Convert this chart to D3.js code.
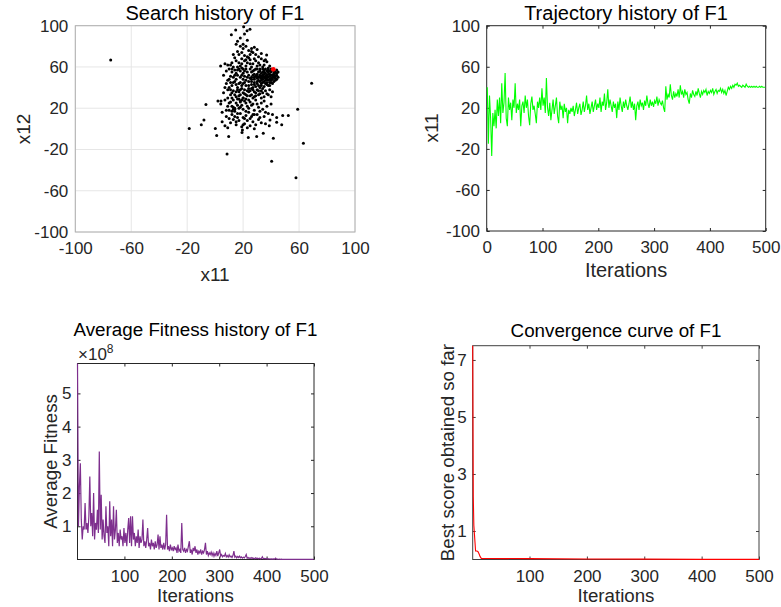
<!DOCTYPE html>
<html>
<head>
<meta charset="utf-8">
<script src="https://cdnjs.cloudflare.com/ajax/libs/d3/7.8.5/d3.min.js"></script>
<style>
body { margin: 0; background: #fff; }
text { font-family: "Liberation Sans", Arial, sans-serif; }
</style>
</head>
<body>
<div id="chart"></div>
<script>
// search history points [x11, x12]
var searchPoints = [
  [-74.7,66.8],[-18.5,0.3],[-9.9,3.9],[-8,8.7],[-6.6,23.5],[0.1,0.3],[1.1,-6.5],[4.2,27.1],[3.9,61],
  [8.5,-24.5],[9.7,-7.4],[40.4,-31.3],[57.8,-47.4],[63.1,-13.9],[59,19],[69,44.2],[48.3,12.9],[52.3,12.9],
  [41.6,-9],[34.4,-4.2],[29.7,-7.4],[23.7,-8.4],[19.2,-3.5],[44,6.5],[47.6,3.9],[38.7,2.9],[39.2,8.7],[36.8,71.6],
  [11.6,91.3],[14.7,95.8],[20.4,99],[22.8,95.2],[24.9,96.5],[21,92],[18,88],[23,86],[16,85],
  [15,82],[18,80],[20,78],[22,80],[24,76],[26,78],[28,79],[30,77],[33,73],[19,74],[17,72],[21,71],[25,72],
  [27,74],[29,72],[31,70],[23,70],[13,72],[20,82],[26,75],
  [9,62],[11,62],[13,60],[15,66],[17,64],[19,68],[21,66],[23,64],[25,67],[27,63],[29,66],[31,64],[33,68],
  [35,62],[37,65],[39,61],[14,69],[18,61],[22,61],[26,60],[30,61],[34,60],[36,67],[24,69],[16,60],[7,63],
  [10,58],[12,55],[14,57],[16,52],[18,56],[20,54],[22,58],[24,52],[26,55],[28,57],[30,53],[32,56],[34,58],
  [36,54],[38,57],[40,55],[42,56],[43,54],[44,57],[41,52],[39,51],[37,52],[35,50],[33,51],[31,55],[29,51],
  [27,52],[25,58],[23,50],[21,51],[19,52],[17,58],[15,54],[11,51],[13,50],[36,58],[38,53],[40,58],[42,52],
  [44,54],[34,55],[32,52],[30,58],[28,50],[37,56],[39,56],[41,57],[43,55],[35,57],[33,54],
  [8,44],[10,48],[12,42],[14,46],[16,40],[18,45],[20,48],[22,42],[24,46],[26,48],[28,45],[30,49],[32,46],
  [34,48],[36,44],[38,47],[40,49],[42,46],[44,48],[31,42],[33,44],[35,41],[37,45],[39,42],[41,44],[29,41],
  [27,40],[21,45],[19,42],[15,43],[11,45],[30,46],[34,45],[36,49],[38,42],[40,45],[32,40],[28,48],[26,43],[43,49],
  [31,50],[33,49],[35,53],[37,50],[39,48],[41,50],[43,51],[36,47],[38,50],[40,52],[42,50],[34,52],[32,50],
  [30,51],[28,53],[26,50],[35,46],[33,47],[37,48],[39,53],
  [12,17],[14,20],[16,23],[18,27],[20,30],[22,33],[24,36],[26,39],
  [6,35],[9,38],[11,33],[13,37],[15,31],[17,36],[19,39],[21,34],[23,37],[25,32],[27,38],[29,35],[31,33],
  [33,37],[35,31],[37,34],[39,38],[41,36],[24,39],[20,30],[18,33],[16,38],[12,30],[28,31],[34,39],
  [2,27],[4,24],[7,28],[9,22],[11,26],[13,21],[15,25],[17,29],[19,23],[21,27],[23,22],[25,26],[27,24],
  [29,28],[31,21],[33,25],[35,27],[37,22],[40,24],[14,19],[18,26],[22,25],
  [5,16],[8,12],[10,18],[12,14],[14,17],[16,11],[18,15],[20,19],[22,13],[24,16],[26,12],[28,18],[30,14],
  [32,17],[35,12],[38,15],[41,14],[44,11],[13,19],[17,20],[21,10],
  [5,7],[7,3],[9,1],[11,6],[13,9],[15,4],[17,8],[19,2],[21,5],[23,8],[25,3],[27,7],[29,4],[31,9],[36,5],[19.5,-1],
  [6,52],[8,56],[9,47],[10,40],[12,64],[13,45],[14,52],[15,48],[16,57],[17,44],[18,50],[19,59],[20,44],
  [21,56],[22,47],[23,55],[24,42],[25,49],[26,46],[27,56],[28,43],[29,58],[30,44],[31,47],[32,58],[33,42],
  [34,50],[35,55],[36,51],[37,43],[38,55],[39,45],[40,47],[41,48],[42,54],[43,47],[44,52],[45,55],[45,50],
  [7,40],[9,30],[10,25],[11,38],[12,35],[13,28],[14,33],[15,36],[16,29],[17,32],[18,38],[19,28],[20,35],
  [21,38],[22,29],[23,32],[24,28],[25,37],[26,33],[27,30],[28,36],[29,32],[30,38],[31,37],[32,34],[33,30],
  [34,35],[36,37],[38,33],[40,31],
  [8,18],[10,10],[12,22],[14,12],[16,15],[18,21],[20,11],[22,17],[24,20],[26,23],[28,14],[30,24],[32,11],
  [34,19],[36,16],[25,10],[27,14],[15,7],[20,4],[23,1],[28,0],[33,6],
  [16,75],[19,63],[22,67],[25,63],[28,68],[32,62],[35,66],[38,59],[20,58],[12,58]
];
var bestPoint = [41.6, 57.7];

// trajectory of x11, iterations 1,3,5,...,499
var trajValues = [
  40,-15,32,10,-27,15,2,18,0,28,12,30,5,44,15,25,54,10,2,30,18,25,8,28,20,
  44,15,24,18,28,2,22,26,15,32,20,28,12,3,24,31,18,22,14,5,26,20,30,18,39,
  22,30,15,49,20,12,25,8,18,28,14,22,30,12,5,26,18,22,10,24,16,20,5,18,14,
  20,16,22,12,18,25,14,20,24,13,18,26,16,22,32,18,24,14,20,26,16,22,28,18,24,
  20,30,16,26,22,34,18,25,38,20,28,22,16,26,20,24,10,26,18,30,22,16,26,20,28,
  22,18,24,31,20,26,18,24,8,22,26,18,28,22,25,18,27,22,32,24,20,28,22,26,21,
  27,24,31,22,28,25,23,27,20,16,41,28,33,30,43,32,28,36,30,34,31,38,30,42,33,
  36,30,38,33,35,28,24,34,30,37,33,31,36,32,39,34,30,36,33,37,35,38,32,36,34,
  37,35,39,33,36,38,34,37,36,39,35,38,34,37,32,36,40,38,41,39,42,40,43,42,44,
  41,42,41,40,42,41,40,43,41,40,41,40,41,40,41,40,41,40,40,41,40,41,40,40,40
];

// average fitness (x 10^8), iterations 1,3,5,...,499
var avgFitness = [
  5.9,1.0,2.2,2.9,1.2,0.6,1.0,0.9,1.7,0.9,1.1,0.8,1.3,2.5,1.0,1.4,0.7,2.0,0.6,1.1,0.9,1.5,0.8,3.25,0.9,
  1.95,0.6,1.2,0.7,0.5,1.6,0.8,1.0,0.4,1.75,0.7,1.2,0.4,1.6,0.6,0.9,1.5,0.5,0.8,0.4,0.9,0.6,0.7,0.4,0.95,
  0.5,0.8,0.4,0.9,1.25,0.5,1.3,0.4,1.3,0.6,0.8,0.4,0.7,0.5,0.9,0.35,0.7,0.5,0.6,1.2,0.4,0.55,0.35,0.6,0.95,
  0.4,0.5,0.3,0.6,0.4,0.5,0.3,0.55,0.35,0.45,0.75,0.3,0.7,0.35,0.45,0.3,0.5,0.3,0.45,1.35,0.3,0.4,0.25,0.45,0.3,
  0.35,0.25,0.4,0.3,0.35,0.2,0.45,0.25,0.3,0.2,1.1,0.3,0.25,0.35,0.2,0.3,0.25,0.4,0.55,0.2,0.3,0.15,0.35,0.25,0.4,
  0.2,0.3,0.15,0.25,0.2,0.3,0.15,0.25,0.2,0.3,0.5,0.15,0.25,0.12,0.2,0.15,0.22,0.12,0.2,0.1,0.18,0.12,0.25,0.1,0.2,
  0.3,0.1,0.15,0.08,0.12,0.1,0.18,0.08,0.12,0.07,0.14,0.08,0.1,0.06,0.12,0.25,0.07,0.1,0.05,0.09,0.06,0.1,0.05,0.08,0.04,
  0.07,0.05,0.09,0.15,0.04,0.06,0.03,0.05,0.03,0.06,0.03,0.04,0.02,0.05,0.03,0.04,0.02,0.04,0.02,0.03,0.08,0.02,0.03,0.02,0.03,
  0.015,0.025,0.015,0.02,0.01,0.02,0.01,0.02,0.01,0.04,0.01,0.015,0.008,0.012,0.006,0.01,0.005,0.008,0.004,0.006,0.004,0.005,0.003,0.004,0.003,
  0.003,0.002,0.003,0.002,0.002,0.002,0.002,0.001,0.001,0.001,0.001,0.001,0.001,0.001,0.001,0.001,0.001,0.001,0.001,0.001,0.001,0.001,0.001,0.001,0.001
];

// best score so far
var convIter   = [1, 2, 3, 4, 5, 6, 8, 10, 12, 14, 16, 30, 100, 200, 300, 400, 500];
var convValues = [7.5, 2.2, 1.2, 0.9, 0.6, 0.3, 0.3, 0.28, 0.2, 0.1, 0.04, 0.035, 0.03, 0.02, 0.012, 0.006, 0.003];

var ticksXY = [-100, -60, -20, 20, 60, 100];
var ticksIter = [0, 100, 200, 300, 400, 500];
var ticksIterB = [100, 200, 300, 400, 500];
var ticksFit = [1, 2, 3, 4, 5];
var ticksConv = [1, 3, 5, 7];

var svg = d3.select("#chart").append("svg")
  .attr("width", 781)
  .attr("height", 607);

function fmt(d) { return String(d); }

function drawAxes(x, y, xTicks, yTicks, opt) {
  var g = svg.append("g");
  var xl = x.range()[0], xr = x.range()[1], yb = y.range()[0], yt = y.range()[1];

  if (opt.grid) {
    g.selectAll(".gx").data(xTicks).enter().append("line")
      .attr("x1", d => x(d)).attr("x2", d => x(d)).attr("y1", yb).attr("y2", yt)
      .style("stroke", "#e6e6e6");
    g.selectAll(".gy").data(yTicks).enter().append("line")
      .attr("y1", d => y(d)).attr("y2", d => y(d)).attr("x1", xl).attr("x2", xr)
      .style("stroke", "#e6e6e6");
  }

  var t = opt.tick;
  var bottom = g.append("g").attr("transform", "translate(0," + yb + ")")
    .call(d3.axisBottom(x).tickValues(xTicks).tickSize(-t).tickPadding(opt.padX).tickFormat(fmt));
  var left = g.append("g").attr("transform", "translate(" + xl + ",0)")
    .call(d3.axisLeft(y).tickValues(yTicks).tickSize(-t).tickPadding(opt.padY).tickFormat(fmt));
  var top = g.append("g").attr("transform", "translate(0," + yt + ")")
    .call(d3.axisTop(x).tickValues(xTicks).tickSize(-t).tickFormat(""));
  var right = g.append("g").attr("transform", "translate(" + xr + ",0)")
    .call(d3.axisRight(y).tickValues(yTicks).tickSize(-t).tickFormat(""));

  [bottom, left, top, right].forEach(function (a) {
    a.select(".domain").remove();
    a.selectAll("line").style("stroke", opt.box);
    a.selectAll("text").style("font-size", "17px").style("fill", "#262626")
      .style("font-family", "'Liberation Sans', Arial, sans-serif");
  });

  g.append("rect")
    .attr("x", xl).attr("y", yt)
    .attr("width", xr - xl).attr("height", yb - yt)
    .style("fill", "none").style("stroke", opt.box).style("stroke-width", 1);
  return g;
}

function label(txt, x, y, size, rot, color) {
  svg.append("text")
    .text(txt)
    .attr("transform", "translate(" + x + "," + y + ")" + (rot ? " rotate(-90)" : ""))
    .style("font-size", size + "px")
    .style("text-anchor", "middle")
    .style("fill", color || "#262626");
}

// panel 1 - search history
var x1 = d3.scaleLinear().domain([-100, 100]).range([75.3, 355]);
var y1 = d3.scaleLinear().domain([-100, 100]).range([232, 25.7]);
drawAxes(x1, y1, ticksXY, ticksXY, {grid: true, tick: 0, padX: 10, padY: 7, box: "#b0b0b0"});
svg.append("g").selectAll("circle").data(searchPoints).enter()
  .append("circle")
  .attr("cx", d => x1(d[0]))
  .attr("cy", d => y1(d[1]))
  .attr("r", 1.5)
  .style("fill", "#000");
svg.append("circle")
  .attr("cx", x1(bestPoint[0])).attr("cy", y1(bestPoint[1]))
  .attr("r", 2.4).style("fill", "#ff0000");
label("Search history of F1", 215, 20, 20, false, "#000");
label("x11", 215, 281, 19);
label("x12", 30, 129, 19, true);

// panel 2 - trajectory
var x2 = d3.scaleLinear().domain([0, 500]).range([486.7, 765.7]);
var y2 = d3.scaleLinear().domain([-100, 100]).range([231, 25.7]);
drawAxes(x2, y2, ticksIter, ticksXY, {grid: false, tick: 3, padX: 10, padY: 6.7, box: "#262626"});
svg.append("path")
  .datum(trajValues)
  .attr("d", d3.line().x((d, i) => x2(1 + i * 2)).y(d => y2(d)))
  .style("fill", "none").style("stroke", "#00ff00").style("stroke-width", 1.1);
label("Trajectory history of F1", 626, 20, 20, false, "#000");
label("Iterations", 626, 277, 20);
label("x11", 438, 128, 19, true);

// panel 3 - average fitness
var x3 = d3.scaleLinear().domain([1, 500]).range([77.5, 314]);
var y3 = d3.scaleLinear().domain([0, 5.9]).range([559.5, 363.5]);
drawAxes(x3, y3, ticksIterB, ticksFit, {grid: false, tick: 3, padX: 10, padY: 6, box: "#262626"});
svg.append("path")
  .datum(avgFitness)
  .attr("d", d3.line().x((d, i) => x3(1 + i * 2)).y(d => y3(d)))
  .style("fill", "none").style("stroke", "#7e2f8e").style("stroke-width", 1.2);
label("Average Fitness history of F1", 195.5, 336, 18.8, false, "#000");
label("Iterations", 195.5, 602, 18.7);
label("Average Fitness", 57, 461.5, 18.7, true);
var expo = svg.append("text").attr("x", 78).attr("y", 360).style("fill", "#262626");
expo.append("tspan").text("\u00d710").style("font-size", "17px");
expo.append("tspan").text("8").attr("dy", -7).style("font-size", "12px");

// panel 4 - convergence
var x4 = d3.scaleLinear().domain([1, 500]).range([472.7, 759]);
var y4 = d3.scaleLinear().domain([0, 7.5]).range([559.5, 345.7]);
drawAxes(x4, y4, ticksIterB, ticksConv, {grid: false, tick: 3, padX: 10, padY: 6, box: "#404040"});
svg.append("path")
  .datum(convIter.map((d, i) => [d, convValues[i]]))
  .attr("d", d3.line().x(d => x4(d[0])).y(d => y4(d[1])))
  .style("fill", "none").style("stroke", "#ff0000").style("stroke-width", 1.1);
label("Convergence curve of F1", 616, 336.5, 18.8, false, "#000");
label("Iterations", 616, 602, 18.7);
label("Best score obtained so far", 454, 452.6, 18.7, true);
</script>
</body>
</html>
